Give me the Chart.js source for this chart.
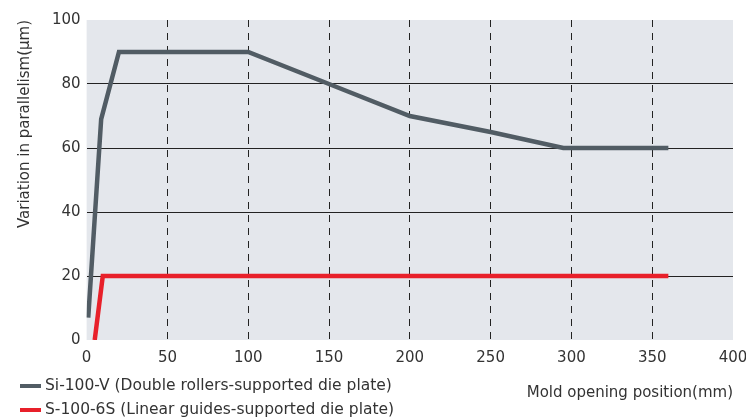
<!DOCTYPE html>
<html>
<head>
<meta charset="utf-8">
<script src="https://cdn.jsdelivr.net/npm/chart.js@4"></script>
<style>
  html, body { margin: 0; padding: 0; background: #fff; }
  #wrap { position: relative; width: 746px; height: 420px; }
</style>
</head>
<body>
<div id="wrap"><canvas id="parallelChart" width="746" height="420"></canvas></div>
<script>
// series
const rollerLabel = "Si-100-V (Double rollers-supported die plate)";
const rollerX = [1, 9, 20, 100, 150, 200, 250, 295, 360];
const rollerY = [7, 69, 90, 90, 80, 70, 65, 60, 60];

const guideLabel = "S-100-6S (Linear guides-supported die plate)";
const guideX = [5, 10, 360];
const guideY = [0, 20, 20];

const xTicks = [0, 50, 100, 150, 200, 250, 300, 350, 400];
const yTicks = [0, 20, 40, 60, 80, 100];

const fontFamily = "'DejaVu Sans', 'Liberation Sans', sans-serif";

// light grey plot background
const plotBg = {
  id: "plotBg",
  beforeDraw(chart) {
    const { ctx, chartArea: a } = chart;
    ctx.save();
    ctx.fillStyle = "#e4e7ec";
    ctx.fillRect(a.left, a.top, a.right - a.left, a.bottom - a.top);
    ctx.restore();
  }
};

// legend stacked in two rows at bottom-left
const stackedLegend = {
  id: "stackedLegend",
  afterDraw(chart) {
    const ctx = chart.ctx;
    ctx.save();
    ctx.font = "15.5px " + fontFamily;
    ctx.textBaseline = "middle";
    chart.data.datasets.forEach((ds, i) => {
      const y = 386 + i * 24;
      ctx.fillStyle = ds.borderColor;
      ctx.fillRect(20, y - 2, 21, 4);
      ctx.fillStyle = "#333";
      ctx.fillText(ds.label, 45, y);
    });
    ctx.restore();
  }
};

function pairs(xs, ys) {
  return xs.map((x, i) => ({ x: x, y: ys[i] }));
}

new Chart(document.getElementById("parallelChart"), {
  type: "line",
  data: {
    datasets: [
      {
        label: rollerLabel,
        data: pairs(rollerX, rollerY),
        borderColor: "#515c64",
        borderWidth: 4.5,
        pointRadius: 0,
        tension: 0
      },
      {
        label: guideLabel,
        data: pairs(guideX, guideY),
        borderColor: "#e8202a",
        borderWidth: 4.5,
        pointRadius: 0,
        tension: 0
      }
    ]
  },
  options: {
    responsive: false,
    animation: false,
    layout: { padding: { top: 20, right: 13, bottom: 18, left: 16 } },
    plugins: {
      legend: { display: false },
      tooltip: { enabled: false }
    },
    scales: {
      x: {
        type: "linear",
        min: 0,
        max: 400,
        afterBuildTicks: axis => { axis.ticks = xTicks.map(v => ({ value: v })); },
        // let the "400" label hang past the plot edge like the original
        afterFit: axis => { axis.paddingRight = 0; },
        border: { display: false, dash: [7, 6] },
        grid: {
          drawTicks: false,
          color: c => (c.tick && (c.tick.value === 0 || c.tick.value === 400)) ? "rgba(0,0,0,0)" : "#222",
          lineWidth: 1
        },
        ticks: { autoSkip: false, maxRotation: 0, padding: 9, color: "#333", font: { family: fontFamily, size: 15 } },
        title: {
          display: true,
          text: "Mold opening position(mm)",
          align: "end",
          color: "#333",
          font: { family: fontFamily, size: 15 },
          padding: { top: 8, bottom: 0 }
        }
      },
      y: {
        min: 0,
        max: 100,
        afterBuildTicks: axis => { axis.ticks = yTicks.map(v => ({ value: v })); },
        border: { display: false },
        grid: {
          drawTicks: false,
          color: c => (c.tick && (c.tick.value === 0 || c.tick.value === 100)) ? "rgba(0,0,0,0)" : "#222",
          lineWidth: 1
        },
        ticks: { autoSkip: false, padding: 6, color: "#333", font: { family: fontFamily, size: 15 } },
        title: {
          display: true,
          text: "Variation in parallelism(μm)",
          align: "end",
          color: "#333",
          font: { family: fontFamily, size: 15 },
          padding: { top: 0, bottom: 12 }
        }
      }
    }
  },
  plugins: [plotBg, stackedLegend]
});
</script>
</body>
</html>
